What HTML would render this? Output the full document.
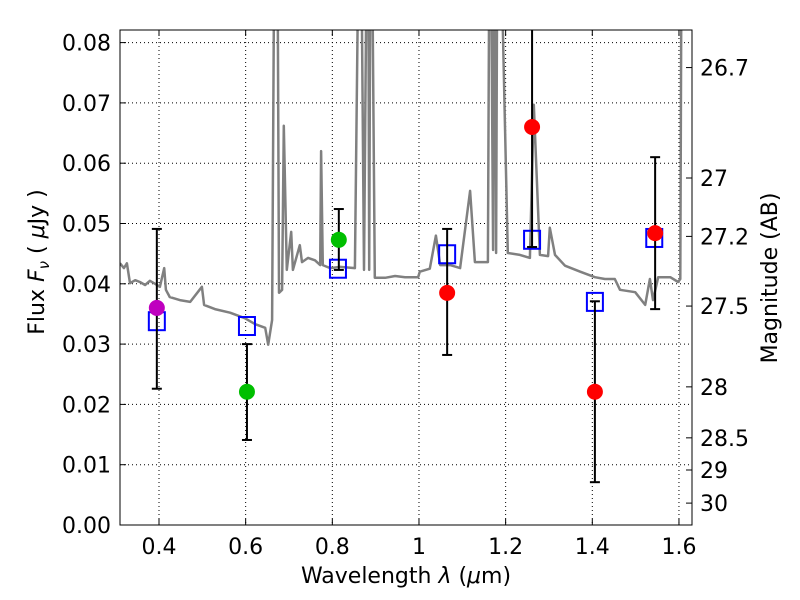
<!DOCTYPE html>
<html><head><meta charset="utf-8"><style>
body{margin:0;background:#fff;}
svg{display:block;font-family:"DejaVu Sans","Liberation Sans",sans-serif;}
</style></head><body>
<svg id="chart" width="800" height="600" xmlns="http://www.w3.org/2000/svg"></svg>
<script>
const specLam=[0.310,0.319,0.326,0.333,0.345,0.356,0.368,0.379,0.391,0.402,0.412,0.416,0.425,0.448,0.472,0.499,0.504,0.529,0.564,0.598,0.622,0.645,0.652,0.661,0.668,0.672,0.677,0.684,0.688,0.695,0.705,0.709,0.725,0.730,0.744,0.760,0.772,0.774,0.778,0.795,0.818,0.852,0.864,0.873,0.882,0.885,0.889,0.898,0.922,0.945,0.968,0.998,1.002,1.025,1.039,1.049,1.072,1.095,1.118,1.129,1.159,1.164,1.171,1.175,1.178,1.182,1.205,1.233,1.256,1.265,1.279,1.298,1.302,1.314,1.337,1.372,1.406,1.429,1.452,1.464,1.499,1.522,1.533,1.540,1.552,1.580,1.598,1.603,1.607,1.616,1.625];
const specFlux=[0.0434,0.0426,0.0434,0.0401,0.0406,0.0403,0.0398,0.0405,0.0400,0.0395,0.0426,0.0390,0.0378,0.0373,0.0370,0.0395,0.0365,0.0358,0.0352,0.0343,0.0333,0.0327,0.0299,0.0340,0.12,0.12,0.0385,0.0390,0.0662,0.0423,0.0486,0.0423,0.0464,0.0436,0.0443,0.0439,0.0431,0.0620,0.0431,0.0426,0.0428,0.0426,0.12,0.0423,0.12,0.0423,0.12,0.0410,0.0410,0.0413,0.0411,0.0411,0.0420,0.0425,0.0480,0.0431,0.0431,0.0426,0.0554,0.0436,0.0436,0.12,0.0456,0.12,0.0451,0.12,0.0451,0.0448,0.0443,0.0697,0.0448,0.0446,0.0493,0.0448,0.0430,0.0420,0.0411,0.0408,0.0408,0.0390,0.0386,0.0365,0.0408,0.0373,0.0411,0.0411,0.0403,0.0408,0.12,0.12,0.12];
const obsLam=[0.395,0.603,0.815,1.065,1.261,1.406,1.545];
const obsFlux=[0.0360,0.0221,0.0473,0.0385,0.0660,0.0221,0.0484];
const obsLo=[0.0226,0.0141,0.0423,0.0282,0.0461,0.0071,0.0358];
const obsHi=[0.0491,0.0300,0.0524,0.0491,0.10,0.0371,0.0610];
const obsColor=["#bf00bf","#00bf00","#00bf00","#ff0000","#ff0000","#ff0000","#ff0000"];
const modLam=[0.395,0.603,0.813,1.065,1.261,1.406,1.543];
const modFlux=[0.0338,0.0330,0.0425,0.0449,0.0473,0.0370,0.0476];
const xTicks=[0.4,0.6,0.8,1.0,1.2,1.4,1.6];
const xTickLabels=["0.4","0.6","0.8","1","1.2","1.4","1.6"];
const yTicks=[0,0.01,0.02,0.03,0.04,0.05,0.06,0.07,0.08];
const yTickLabels=["0.00","0.01","0.02","0.03","0.04","0.05","0.06","0.07","0.08"];
const magTicks=[26.7,27,27.2,27.5,28,28.5,29,30];
const magLabels=["26.7","27","27.2","27.5","28","28.5","29","30"];

const L=120,R=692,T=30,B=525;
const X=l=>159+(l-0.4)*433.3;
const Y=f=>525-f*6030;
const NS="http://www.w3.org/2000/svg";
const svg=document.getElementById('chart');
function mk(tag,attrs,parent){const e=document.createElementNS(NS,tag);for(const k in attrs)e.setAttribute(k,attrs[k]);(parent||svg).appendChild(e);return e;}

const defs=mk('defs',{});
const cp=mk('clipPath',{id:'clip'},defs);
mk('rect',{x:L,y:T,width:R-L,height:B-T},cp);

const grid=mk('g',{});


xTicks.forEach(t=>{mk('line',{x1:X(t),x2:X(t),y1:T,y2:B,stroke:'#000','stroke-width':1,'stroke-dasharray':'1,3'},grid);});
yTicks.forEach(t=>{mk('line',{x1:L,x2:R,y1:Y(t),y2:Y(t),stroke:'#000','stroke-width':1,'stroke-dasharray':'1,3'},grid);});

const plot=mk('g',{'clip-path':'url(#clip)'});
const pts=specLam.map((l,i)=>X(l).toFixed(1)+','+Y(specFlux[i]).toFixed(1)).join(' ');
const spec=mk('polyline',{points:pts,fill:'none',stroke:'#808080','stroke-width':2.5,'stroke-linejoin':'round'},plot);



modLam.forEach((l,i)=>{
  const s=mk('rect',{x:X(l)-8,y:Y(modFlux[i])-9,width:16,height:18,fill:'none',stroke:'#0000ff','stroke-width':2},plot);
  
  
});
obsLam.forEach((l,i)=>{
  const g=mk('g',{},plot);
  
  
  const x=X(l);
  mk('line',{x1:x,x2:x,y1:Y(obsLo[i]),y2:Y(obsHi[i]),stroke:'#000','stroke-width':2},g);
  mk('line',{x1:x-5,x2:x+5,y1:Y(obsLo[i]),y2:Y(obsLo[i]),stroke:'#000','stroke-width':2},g);
  mk('line',{x1:x-5,x2:x+5,y1:Y(obsHi[i]),y2:Y(obsHi[i]),stroke:'#000','stroke-width':2},g);
  mk('circle',{cx:x,cy:Y(obsFlux[i]),r:8,fill:obsColor[i]},g);
});

const fr=mk('rect',{x:L,y:T,width:R-L,height:B-T,fill:'none',stroke:'#000','stroke-width':1});



xTicks.forEach((t,i)=>{
  mk('line',{x1:X(t),x2:X(t),y1:B,y2:B-6,stroke:'#000'});
  mk('line',{x1:X(t),x2:X(t),y1:T,y2:T+6,stroke:'#000'});
  const tx=mk('text',{x:X(t),y:B+29,'font-size':22,'text-anchor':'middle'});
  tx.textContent=xTickLabels[i];
  
  
});
yTicks.forEach((t,i)=>{
  mk('line',{x1:L,x2:L+6,y1:Y(t),y2:Y(t),stroke:'#000'});
  const tx=mk('text',{x:L-9,y:Y(t)+8,'font-size':22,'text-anchor':'end'});
  tx.textContent=yTickLabels[i];
  
  
});
magTicks.forEach((m,i)=>{
  const y=Y(Math.pow(10,(23.9-m)/2.5));
  mk('line',{x1:R,x2:R-6,y1:y,y2:y,stroke:'#000'});
  const tx=mk('text',{x:R+8,y:y+8,'font-size':22,'text-anchor':'start'});
  tx.textContent=magLabels[i];
  
  
});

let t=mk('text',{x:406,y:583,'font-size':22,'text-anchor':'middle'});
t.innerHTML='Wavelength  <tspan font-style="italic">λ</tspan> (<tspan font-style="italic">μ</tspan>m)';


t=mk('text',{x:0,y:0,'font-size':22,'text-anchor':'middle',transform:'translate(44,262) rotate(-90)'});
t.innerHTML='Flux  <tspan font-style="italic">F</tspan><tspan font-style="italic" font-size="15" dy="5">ν</tspan><tspan dy="-5">  ( </tspan><tspan font-style="italic">μ</tspan>Jy )';


t=mk('text',{x:0,y:0,'font-size':22,'text-anchor':'middle',transform:'translate(777,278) rotate(-90)'});
t.textContent='Magnitude (AB)';


</script>
</body></html>
